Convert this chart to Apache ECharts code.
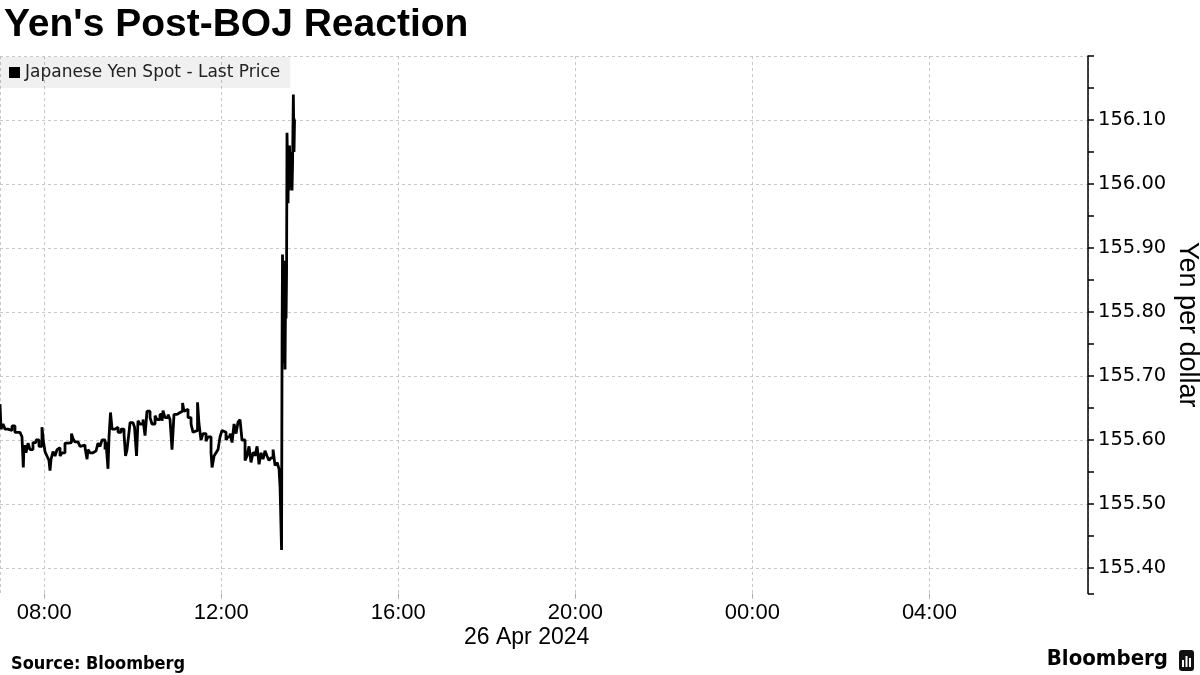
<!DOCTYPE html>
<html>
<head>
<meta charset="utf-8">
<script src="https://cdn.jsdelivr.net/npm/echarts@6/dist/echarts.min.js"></script>
<style>
html,body{margin:0;padding:0;background:#fff;}
#chart{width:1200px;height:675px;}
</style>
</head>
<body>
<div id="chart"></div>
<script>
// Time of each quote, minutes since 00:00 on 26 Apr 2024
const minutes = [
  420.0, 421.4, 424.1, 426.8, 430.8, 436.3, 440.3, 447.1, 449.8, 451.6,
  452.5, 455.3, 458.0, 460.7, 464.7, 468.8, 472.9, 476.9, 479.0, 481.0,
  483.7, 486.4, 487.8, 489.2, 491.9, 494.6, 497.3, 500.0, 501.4, 504.1,
  508.1, 512.2, 514.9, 516.9, 519.0, 521.7, 525.8, 528.5, 531.2, 535.3,
  538.0, 539.3, 542.0, 546.1, 550.2, 552.9, 555.6, 558.3, 562.4, 563.7,
  566.4, 567.8, 569.8, 571.9, 575.9, 580.0, 584.1, 588.1, 590.2, 592.2,
  594.9, 596.3, 600.3, 602.4, 605.1, 607.1, 609.8, 613.9, 616.6, 619.3,
  623.4, 626.1, 630.2, 632.9, 636.9, 639.7, 641.0, 643.7, 647.8, 650.5,
  653.2, 655.9, 660.0, 664.1, 667.5, 669.5, 672.2, 674.9, 679.0, 681.7,
  684.4, 687.8, 689.8, 692.5, 695.2, 699.3, 702.0, 706.1, 707.5, 710.2,
  712.9, 715.6, 718.3, 721.0, 723.7, 726.4, 729.1, 731.9, 734.6, 737.3,
  740.0, 742.7, 745.4, 748.1, 750.8, 752.2, 754.9, 757.6, 760.3, 763.0,
  765.8, 768.5, 771.2, 773.9, 776.6, 779.3, 782.0, 784.7, 787.4, 790.2,
  792.9, 795.6, 798.3, 799.7, 801.7, 802.4, 803.0, 803.7, 804.4, 805.1,
  805.7, 806.4, 807.1, 807.8, 808.5, 809.1, 810.5, 811.2, 811.9, 812.5,
  813.2, 814.6, 815.9, 816.6, 817.7, 818.6, 819.3, 820.7, 821.3
];
// Japanese Yen Spot - Last Price (yen per dollar)
const yenSpot = [
  155.656, 155.617, 155.625, 155.617, 155.615, 155.622, 155.612, 155.610, 155.605, 155.557,
  155.590, 155.580, 155.595, 155.585, 155.596, 155.600, 155.590, 155.620, 155.597, 155.582,
  155.575, 155.568, 155.552, 155.570, 155.582, 155.575, 155.585, 155.588, 155.575, 155.580,
  155.595, 155.598, 155.596, 155.610, 155.602, 155.597, 155.595, 155.590, 155.592, 155.588,
  155.570, 155.585, 155.580, 155.583, 155.585, 155.595, 155.590, 155.600, 155.585, 155.597,
  155.555, 155.605, 155.643, 155.617, 155.620, 155.612, 155.617, 155.610, 155.575, 155.585,
  155.612, 155.627, 155.630, 155.620, 155.575, 155.630, 155.625, 155.632, 155.607, 155.645,
  155.635, 155.625, 155.638, 155.632, 155.640, 155.630, 155.646, 155.635, 155.640, 155.632,
  155.585, 155.640, 155.643, 155.645, 155.658, 155.645, 155.648, 155.635, 155.625, 155.612,
  155.615, 155.659, 155.625, 155.600, 155.610, 155.598, 155.605, 155.580, 155.557, 155.575,
  155.580, 155.585, 155.605, 155.615, 155.612, 155.600, 155.605, 155.610, 155.596, 155.625,
  155.610, 155.628, 155.632, 155.600, 155.600, 155.568, 155.575, 155.590, 155.565, 155.580,
  155.575, 155.590, 155.562, 155.580, 155.570, 155.583, 155.575, 155.568, 155.572, 155.585,
  155.560, 155.565, 155.555, 155.526, 155.428, 155.750, 155.890, 155.720, 155.870, 155.780,
  155.880, 155.710, 155.820, 155.790, 155.860, 156.080, 155.970, 156.050, 155.990, 156.060,
  156.000, 156.050, 155.990, 156.030, 156.140, 156.050, 156.100, 156.100, 156.100
];
const seriesName = 'Japanese Yen Spot - Last Price';
const chartTitle = "Yen's Post-BOJ Reaction";
const dateLabel = '26 Apr 2024';
const yAxisName = 'Yen per dollar';
const sourceText = 'Source: Bloomberg';
const xMin = 420, xMax = 1895;   // 07:00 26 Apr -> ~07:35 27 Apr
const yMin = 155.36, yMax = 156.20;

const chart = echarts.init(document.getElementById('chart'), null, {renderer: 'canvas'});
const pad = n => (n < 10 ? '0' : '') + n;

chart.setOption({
  backgroundColor: '#ffffff',
  animation: false,
  title: [
    {text: chartTitle, left: -1, top: 1,
     textStyle: {fontFamily: 'Liberation Sans', fontWeight: 'bold', fontSize: 39, color: '#000'}},
    {text: dateLabel, left: 459, top: 621,
     textStyle: {fontFamily: 'Liberation Sans', fontWeight: 'normal', fontSize: 23, color: '#000'}},
    {text: sourceText, left: 6, top: 650,
     textStyle: {fontFamily: 'DejaVu Sans Condensed, DejaVu Sans', fontWeight: 'bold', fontSize: 18, color: '#000'}}
  ],
  graphic: [
    {type: 'text', right: 32, top: 648,
     style: {text: 'Bloomberg', font: 'bold 22px "DejaVu Sans Condensed", "Liberation Sans"', fill: '#000'}},
    {type: 'group', right: 6, top: 650, children: [
      {type: 'rect', shape: {x: 0, y: 0, width: 15, height: 21, r: 3}, style: {fill: '#111'}},
      {type: 'rect', shape: {x: 3, y: 10, width: 2, height: 7}, style: {fill: '#fff'}},
      {type: 'rect', shape: {x: 6.5, y: 6, width: 2, height: 11}, style: {fill: '#fff'}},
      {type: 'rect', shape: {x: 10, y: 8, width: 2, height: 9}, style: {fill: '#fff'}}
    ]}
  ],
  legend: {
    left: 0, top: 57,
    padding: [7, 10, 7, 9],
    backgroundColor: 'rgba(0,0,0,0.06)',
    icon: 'rect', itemWidth: 11, itemHeight: 11, itemGap: 5,
    textStyle: {fontFamily: 'DejaVu Sans', fontSize: 17, color: '#222'},
    data: [seriesName]
  },
  grid: {left: 0, right: 112, top: 56, bottom: 81.4, containLabel: false, outerBoundsMode: 'none'},
  xAxis: {
    type: 'value', min: xMin, max: xMax,
    minInterval: 240, maxInterval: 240, splitNumber: 6,
    axisLine: {show: false},
    axisTick: {show: true, length: 5, lineStyle: {color: '#aaa'}},
    axisLabel: {
      showMinLabel: false, showMaxLabel: false, margin: 8,
      fontFamily: 'Liberation Sans', fontSize: 22, color: '#000',
      formatter: v => (v % 240 === 0) ? pad(Math.floor(v / 60) % 24) + ':00' : ''
    },
    splitLine: {show: true, lineStyle: {color: '#c8c8c8', type: [3, 3], width: 1}}
  },
  yAxis: {
    type: 'value', position: 'right', min: yMin, max: yMax,
    minInterval: 0.05, maxInterval: 0.05, splitNumber: 17,
    scale: true,
    axisLine: {show: true, lineStyle: {color: '#000', width: 1.5}},
    axisTick: {show: true, length: 6, lineStyle: {color: '#000', width: 1.5}},
    axisLabel: {
      margin: 10, fontFamily: 'DejaVu Sans', fontSize: 19.5, color: '#000',
      formatter: v => {
        const t = v * 10;
        return (Math.abs(t - Math.round(t)) < 1e-6 && v < 156.15 && v > 155.37) ? v.toFixed(2) : '';
      }
    },
    splitLine: {show: true, lineStyle: {color: ['rgba(0,0,0,0)', '#c8c8c8'], type: [3, 3], width: 1}},
    name: yAxisName, nameLocation: 'middle', nameRotate: -90, nameGap: 86,
    nameMoveOverlap: false,
    nameTextStyle: {fontFamily: 'Liberation Sans', fontSize: 27, color: '#000'}
  },
  series: [{
    name: seriesName,
    type: 'line',
    step: 'end',
    showSymbol: false,
    symbol: 'none',
    color: '#000',
    lineStyle: {color: '#000', width: 2.8},
    data: minutes.map((m, i) => [m, yenSpot[i]])
  }]
});
</script>
</body>
</html>
